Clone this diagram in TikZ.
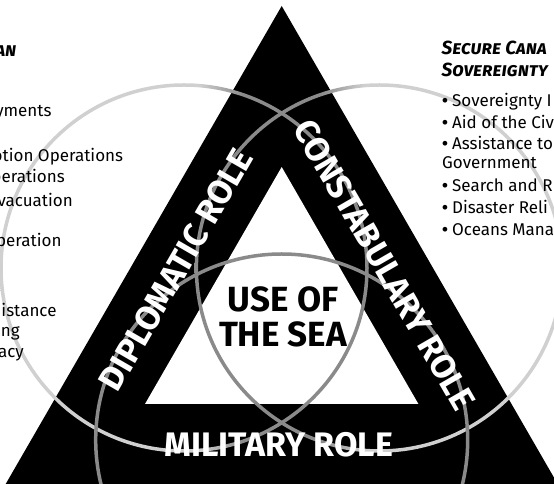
\documentclass[tikz,border=0pt]{standalone}
\usepackage{fontspec}
\setmainfont{Fira Sans}
\usepackage{tikz}

\definecolor{ringdark}{HTML}{8A8A8A}
\definecolor{ringlight}{HTML}{D0D0D0}
\pgfdeclarehorizontalshading{leftring}{100bp}{color(0bp)=(ringlight); color(52bp)=(ringlight); color(58bp)=(ringdark); color(100bp)=(ringdark)}
\pgfdeclarehorizontalshading{rightring}{100bp}{color(0bp)=(ringdark); color(42bp)=(ringdark); color(48bp)=(ringlight); color(100bp)=(ringlight)}
\newcommand{\taskdot}{\makebox[10pt][l]{\textbf{•}}}

\begin{document}
\begin{tikzpicture}[x=1pt,y=1pt,
  rolelabel/.style={text=white,font=\bfseries\fontsize{34}{34}\selectfont,inner sep=0pt},
  sealabel/.style={font=\bfseries\fontsize{35}{35}\selectfont,align=center,inner sep=0pt},
  tasktext/.style={font=\fontsize{17}{20}\selectfont,inner sep=0pt},
  taskhead/.style={font=\bfseries\itshape\scshape\fontsize{19}{21}\selectfont,inner sep=0pt}]
\useasboundingbox (0,0) rectangle (554,484);
\clip (0,0) rectangle (554,484);
\fill[black] (5.7,0) -- (281.7,478) -- (557.7,0) -- cycle;
\fill[white] (145,80) -- (281.7,317) -- (418.4,80) -- cycle;
\coordinate (dipc) at (184,216);
\coordinate (conc) at (379.4,216);
\coordinate (milc) at (281.7,44);
\shade[shading=leftring,even odd rule] (dipc) circle[radius=184.75] (dipc) circle[radius=181.25];
\shade[shading=rightring,even odd rule] (conc) circle[radius=184.75] (conc) circle[radius=181.25];
\draw[ringdark,line width=3.5pt] (milc) circle[radius=186];
\node[rolelabel,rotate=60] (diplomatic) at (175.8,214) {DIPLOMATIC ROLE};
\node[rolelabel,rotate=-60] (constabulary) at (384.7,219) {CONSTABULARY ROLE};
\node[rolelabel,anchor=base] (military) at (279,27.3) {MILITARY ROLE};
\node[sealabel] (usesea) at (283,167.3) {USE OF\\THE SEA};
% left list, cut at the edge
\node[taskhead,anchor=base east] (lefthead) at (16.7,427) {an};
\node[tasktext,anchor=base east] (la) at (51.7,367.3) {yments};
\node[tasktext,anchor=base east] (lb) at (123.3,322.3) {otion Operations};
\node[tasktext,anchor=base east] (lc) at (65,301) {perations};
\node[tasktext,anchor=base east] (ld) at (73,277.3) {vacuation};
\node[tasktext,anchor=base east] (le) at (61.7,237.3) {peration};
\node[tasktext,anchor=base east] (lf) at (56.7,167.3) {istance};
\node[tasktext,anchor=base east] (lg) at (20,147.3) {ing};
\node[tasktext,anchor=base east] (lh) at (24,126) {acy};
% right list, cut at the edge
\node[taskhead,anchor=base west] (rightheada) at (441.5,429) {Secure Cana};
\node[taskhead,anchor=base west] (rightheadb) at (441.5,407.3) {Sovereignty};
\node[tasktext,anchor=base west] (ra) at (442,377.3) {\taskdot Sovereignty I};
\node[tasktext,anchor=base west] (rb) at (442,355.7) {\taskdot Aid of the Civ};
\node[tasktext,anchor=base west] (rc) at (442,334) {\taskdot Assistance to};
\node[tasktext,anchor=base west] (rd) at (442,315.7) {Government};
\node[tasktext,anchor=base west] (re) at (442,292) {\taskdot Search and R};
\node[tasktext,anchor=base west] (rf) at (442,270) {\taskdot Disaster Reli};
\node[tasktext,anchor=base west] (rg) at (442,248) {\taskdot Oceans Mana};
\end{tikzpicture}
\end{document}
